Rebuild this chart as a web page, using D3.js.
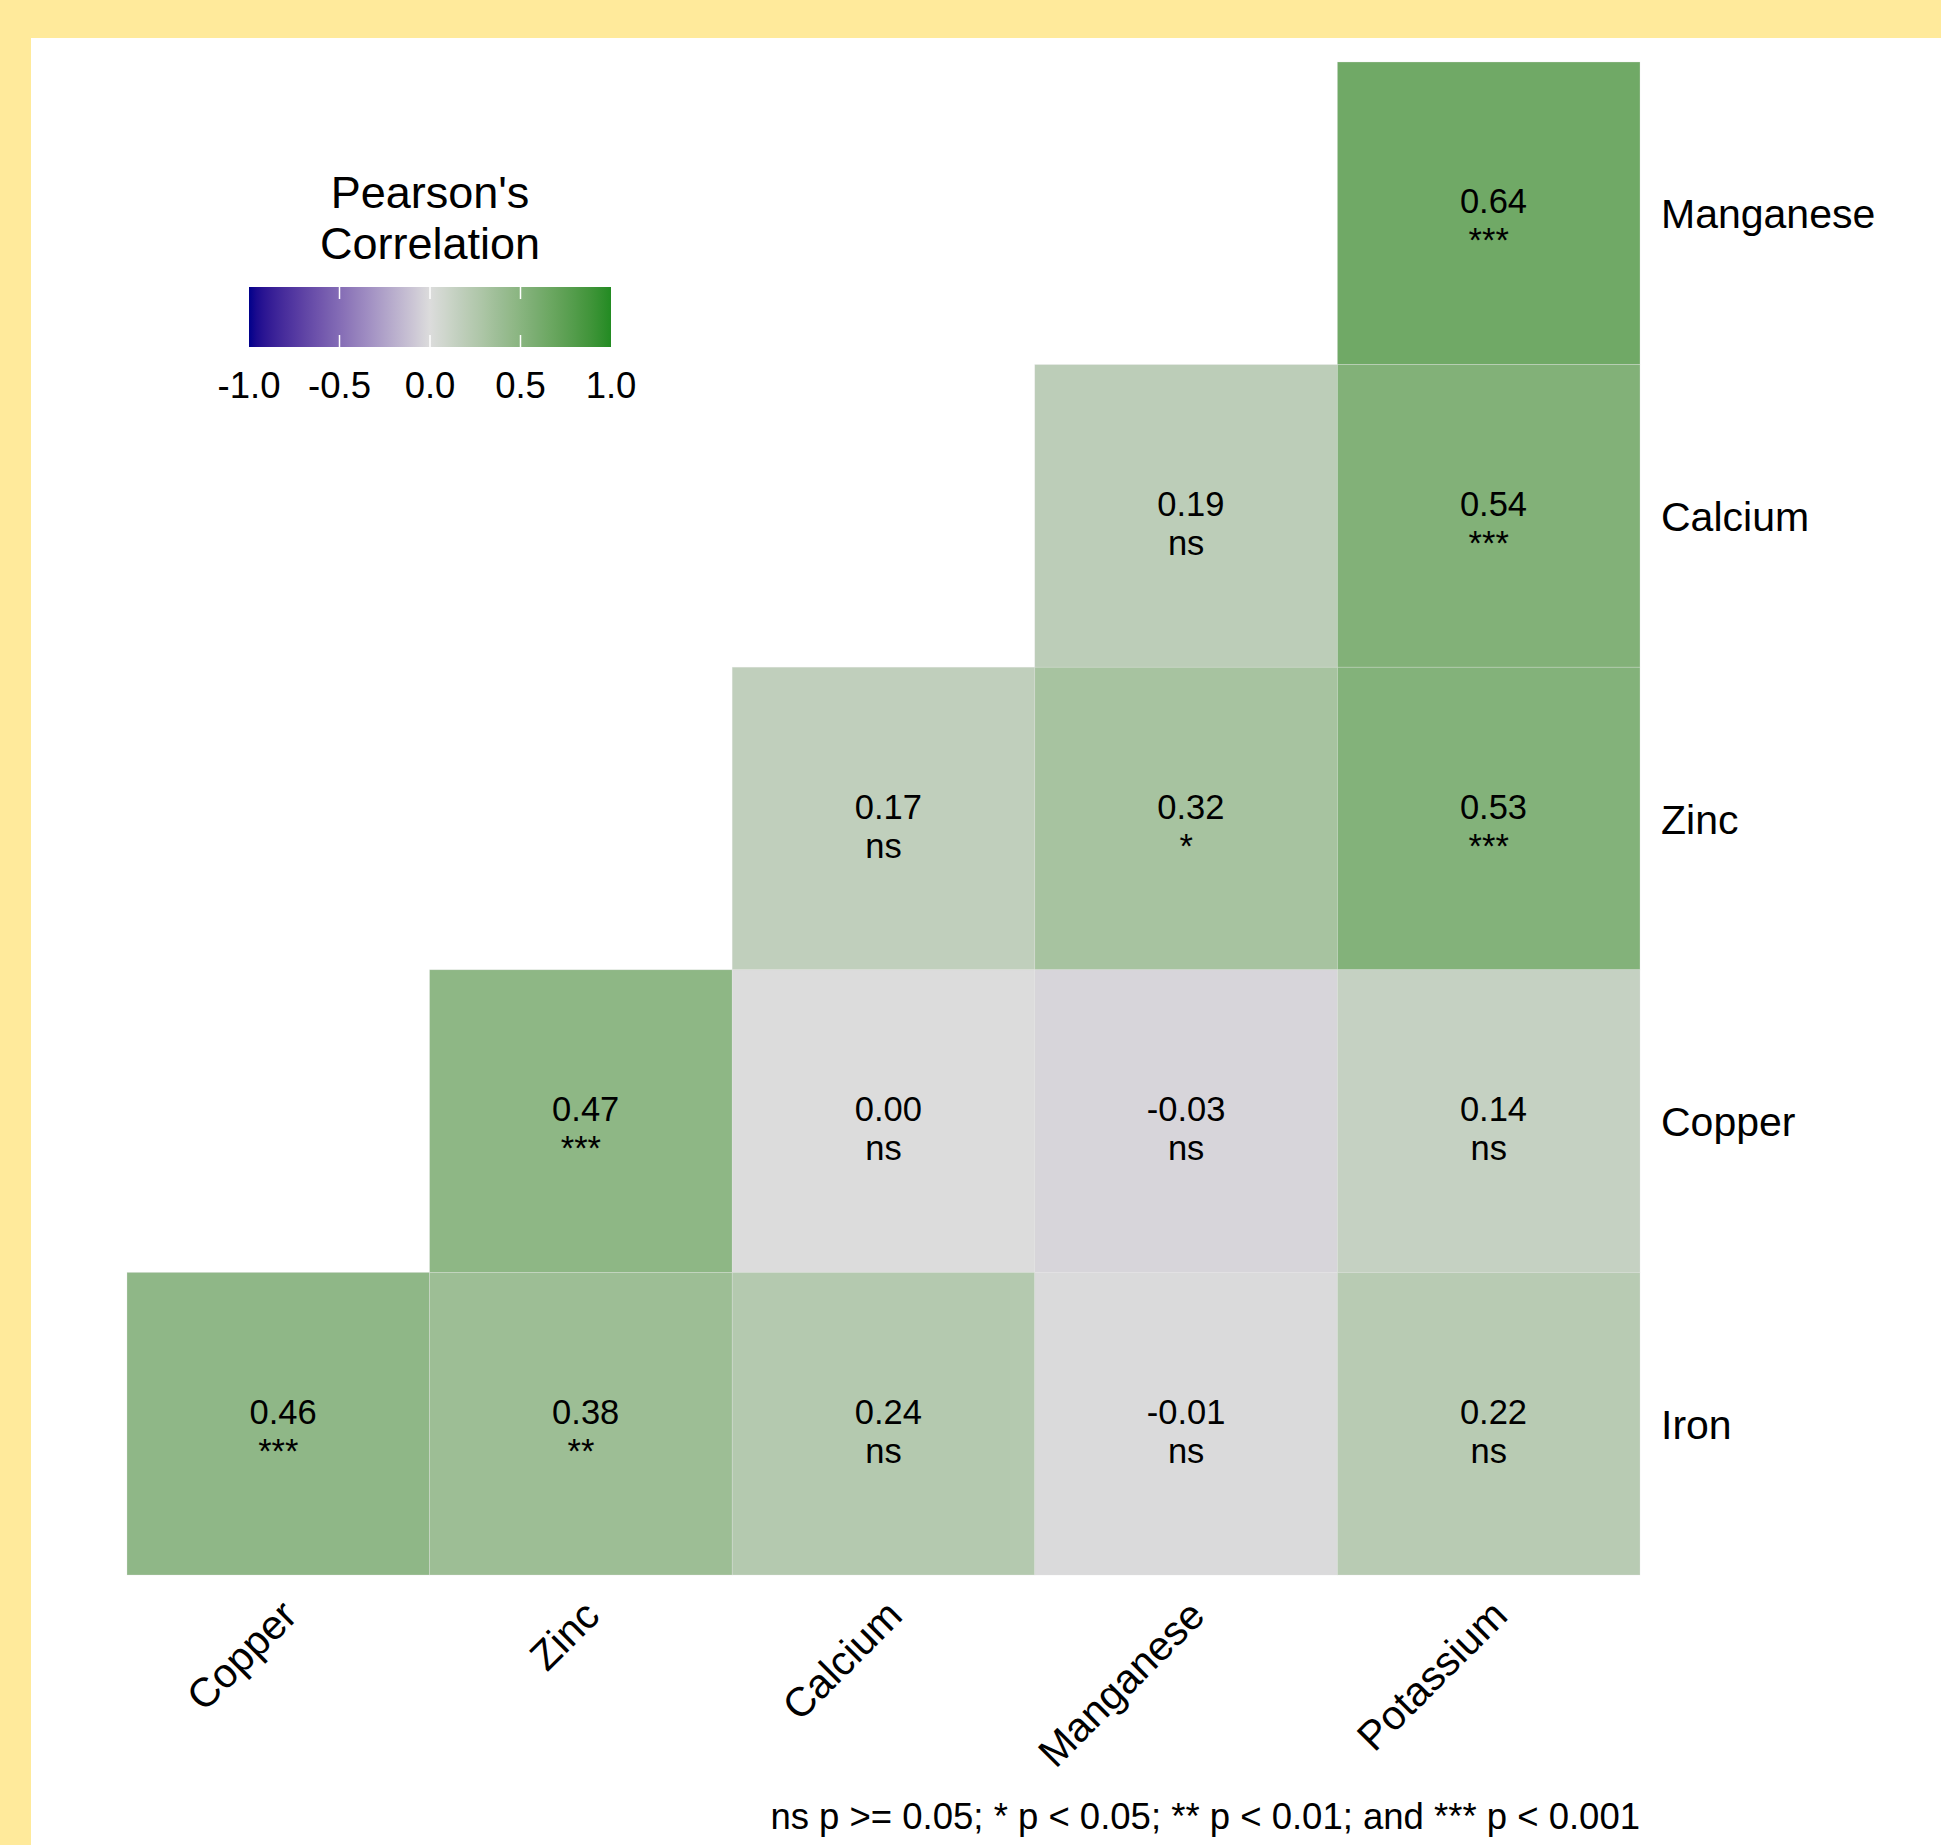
<!DOCTYPE html>
<html>
<head>
<meta charset="utf-8">
<script src="https://cdn.jsdelivr.net/npm/d3@7"></script>
<style>
  body { margin: 0; background: #FFEA9B; }
  svg text { font-family: "Liberation Sans", Arial, sans-serif; fill: #000; }
  .axis path.domain, .axis line { display: none; }
</style>
</head>
<body>
<svg id="chart"></svg>
<script>
// correlation matrix, lower triangle as drawn (rows top -> bottom)
const rowLabels = ["Manganese", "Calcium", "Zinc", "Copper", "Iron"];
const colLabels = ["Copper", "Zinc", "Calcium", "Manganese", "Potassium"];
const corrValues = [
  [null, null, null, null, 0.64],
  [null, null, null, 0.19, 0.54],
  [null, null, 0.17, 0.32, 0.53],
  [null, 0.47, 0.00, -0.03, 0.14],
  [0.46, 0.38, 0.24, -0.01, 0.22]
];
const sigLabels = [
  [null, null, null, null, "***"],
  [null, null, null, "ns", "***"],
  [null, null, "ns", "*", "***"],
  [null, "***", "ns", "ns", "ns"],
  ["***", "**", "ns", "ns", "ns"]
];
const legendTicks = [-1, -0.5, 0, 0.5, 1];
const legendTitle = ["Pearson's", "Correlation"];
const footnote = "ns p >= 0.05; * p < 0.05; ** p < 0.01; and *** p < 0.001";

const W = 1941, H = 1845;
const grid = {left: 127, right: 1640, top: 62, bottom: 1575};

const svg = d3.select("#chart").attr("width", W).attr("height", H);

// page background: yellow frame with white panel
svg.append("rect").attr("width", W).attr("height", H).attr("fill", "#FFEA9B");
svg.append("rect").attr("x", 31).attr("y", 38).attr("width", W - 31).attr("height", H - 38).attr("fill", "#fff");

const loc = d3.formatLocale({decimal: ".", thousands: ",", grouping: [3], currency: ["", ""], minus: "-"});
const fmtCell = loc.format(" .2f");
const fmtLegend = loc.format(".1f");

const color = d3.scaleLinear()
  .domain([-1, 0, 1])
  .range(["#00008B", "#DCDCDC", "#228B22"])
  .interpolate(d3.interpolateLab);

const x = d3.scaleBand().domain(colLabels).range([grid.left, grid.right]);
const y = d3.scaleBand().domain(rowLabels).range([grid.top, grid.bottom]);

const cells = [];
rowLabels.forEach((r, i) => {
  colLabels.forEach((c, j) => {
    if (corrValues[i][j] !== null) cells.push({row: r, col: c, value: corrValues[i][j], sig: sigLabels[i][j]});
  });
});

const chart = svg.append("g");

chart.selectAll(".cell")
  .data(cells)
  .join("rect")
    .attr("class", "cell")
    .attr("x", d => x(d.col))
    .attr("y", d => y(d.row))
    .attr("width", x.bandwidth())
    .attr("height", y.bandwidth())
    .attr("fill", d => color(d.value))
    .attr("stroke", "#e6e6e6")
    .attr("stroke-opacity", 0.5)
    .attr("stroke-width", 0.6);

const labels = chart.selectAll(".cell-label")
  .data(cells)
  .join("text")
    .attr("class", "cell-label")
    .attr("text-anchor", "middle")
    .style("font-size", "34.5px")
    .style("white-space", "pre");

labels.append("tspan")
  .attr("x", d => x(d.col) + x.bandwidth() / 2)
  .attr("y", d => y(d.row) + y.bandwidth() / 2)
  .text(d => fmtCell(d.value));

labels.append("tspan")
  .attr("x", d => x(d.col) + x.bandwidth() / 2)
  .attr("y", d => y(d.row) + y.bandwidth() / 2 + 39)
  .text(d => d.sig);

// y axis on the right
const yAxisG = svg.append("g")
  .attr("class", "axis")
  .attr("transform", `translate(${grid.right}, 0)`)
  .call(d3.axisRight(y).tickSize(0).tickPadding(21));
yAxisG.selectAll("text")
  .style("font-size", "41px")
  .attr("dy", "0.37em");

// x axis, labels at 45 degrees
const xAxisG = svg.append("g")
  .attr("class", "axis")
  .attr("transform", `translate(0, ${grid.bottom})`)
  .call(d3.axisBottom(x).tickSize(0).tickPadding(0));
xAxisG.selectAll("text")
  .style("font-size", "41px")
  .attr("text-anchor", "end")
  .attr("x", 0)
  .attr("y", 0)
  .attr("dy", "0.72em")
  .attr("transform", "translate(0, 22) rotate(-45)");

// legend
const legend = {x0: 249, x1: 611, y: 287, h: 60};
const lx = d3.scaleLinear().domain([-1, 1]).range([legend.x0, legend.x1]);

const defs = svg.append("defs");
const grad = defs.append("linearGradient").attr("id", "corr-grad");
d3.range(0, 1.0001, 0.02).forEach(t => {
  grad.append("stop").attr("offset", t).attr("stop-color", color(-1 + 2 * t));
});

const lg = svg.append("g");
lg.append("rect")
  .attr("x", legend.x0).attr("y", legend.y)
  .attr("width", legend.x1 - legend.x0).attr("height", legend.h)
  .attr("fill", "url(#corr-grad)");

lg.selectAll(".tick-top")
  .data(legendTicks.slice(1, -1))
  .join("line")
    .attr("x1", d => lx(d)).attr("x2", d => lx(d))
    .attr("y1", legend.y).attr("y2", legend.y + 12)
    .attr("stroke", "#fff").attr("stroke-width", 1.5);
lg.selectAll(".tick-bot")
  .data(legendTicks.slice(1, -1))
  .join("line")
    .attr("x1", d => lx(d)).attr("x2", d => lx(d))
    .attr("y1", legend.y + legend.h - 12).attr("y2", legend.y + legend.h)
    .attr("stroke", "#fff").attr("stroke-width", 1.5);

lg.selectAll(".leg-label")
  .data(legendTicks)
  .join("text")
    .attr("x", d => lx(d))
    .attr("y", 398)
    .attr("text-anchor", "middle")
    .style("font-size", "36.5px")
    .text(d => fmtLegend(d));

lg.selectAll(".leg-title")
  .data(legendTitle)
  .join("text")
    .attr("x", (legend.x0 + legend.x1) / 2)
    .attr("y", (d, i) => 208 + i * 51)
    .attr("text-anchor", "middle")
    .style("font-size", "45px")
    .text(d => d);

// caption
svg.append("text")
  .attr("x", grid.right)
  .attr("y", 1829)
  .attr("text-anchor", "end")
  .style("font-size", "36.5px")
  .text(footnote);
</script>
</body>
</html>
